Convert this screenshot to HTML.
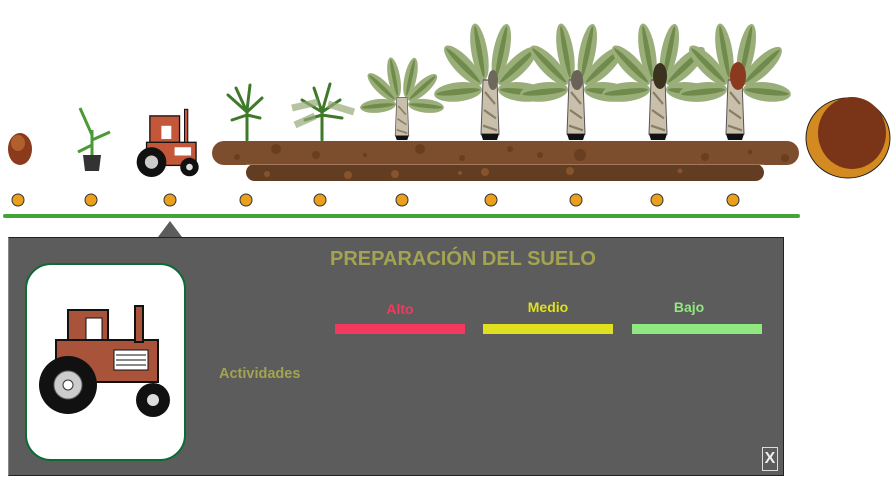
<!DOCTYPE html>
<html><head><meta charset="utf-8"><style>
body{margin:0;width:896px;height:497px;background:#fff;overflow:hidden;position:relative;font-family:"Liberation Sans",sans-serif}
.a{position:absolute}
</style></head><body>
<svg class="a" style="left:0;top:0" width="896" height="240">
<defs>
<g id="fr">
<ellipse cx="0" cy="-22" rx="8" ry="24" fill="#9aae7a"/>
<ellipse cx="0" cy="-22" rx="2.5" ry="22" fill="#6f8a4a"/>
</g>
<g id="palm">
<use href="#fr" transform="translate(-6,-52) rotate(-12)"/>
<use href="#fr" transform="translate(6,-52) rotate(14)"/>
<use href="#fr" transform="translate(-10,-48) rotate(-50)"/>
<use href="#fr" transform="translate(10,-48) rotate(52)"/>
<use href="#fr" transform="translate(-10,-42) rotate(-95)"/>
<use href="#fr" transform="translate(10,-42) rotate(95)"/>
<path d="M-7,-50 L7,-50 L9,-5 L-9,-5 Z" fill="#c9c0ab" stroke="#555" stroke-width="1"/>
<path d="M-5,-40 L5,-30 M-6,-25 L6,-18 M-7,-12 L7,-8" stroke="#8a7d66" stroke-width="2"/>
<path d="M-9,-5 L9,-5 L7,0 L-7,0Z" fill="#111"/>
</g>
</defs>
<rect x="212" y="141" width="587" height="24" rx="12" fill="#7d4e2d"/>
<rect x="246" y="164" width="518" height="17" rx="8.5" fill="#633d22"/>
<line x1="246" y1="164.5" x2="764" y2="164.5" stroke="#a07a5a" stroke-width="1"/>
<g fill="#6a3e20"><circle cx="276" cy="149" r="5"/><circle cx="316" cy="155" r="4"/><circle cx="237" cy="157" r="3"/><circle cx="420" cy="149" r="5"/><circle cx="580" cy="155" r="6"/><circle cx="510" cy="149" r="3"/><circle cx="705" cy="157" r="4"/><circle cx="750" cy="152" r="2.5"/><circle cx="365" cy="155" r="2"/><circle cx="540" cy="155" r="3"/><circle cx="462" cy="158" r="3"/><circle cx="785" cy="158" r="4"/></g>
<g fill="#85532e"><circle cx="267" cy="174" r="3"/><circle cx="348" cy="175" r="4"/><circle cx="395" cy="174" r="4"/><circle cx="485" cy="172" r="4"/><circle cx="570" cy="171" r="4"/><circle cx="680" cy="171" r="2.5"/><circle cx="460" cy="173" r="2"/></g>
<use href="#palm" transform="translate(490,140) scale(1.0,1.2)"/>
<use href="#palm" transform="translate(576,140) scale(1.0,1.2)"/>
<use href="#palm" transform="translate(658,140) scale(1.0,1.2)"/>
<use href="#palm" transform="translate(735,140) scale(1.0,1.2)"/>
<ellipse cx="493" cy="80" rx="5" ry="10" fill="#6e675c"/>
<ellipse cx="577" cy="80" rx="6" ry="10" fill="#6a6258"/>
<ellipse cx="660" cy="76" rx="7" ry="13" fill="#3b3320"/>
<ellipse cx="738" cy="76" rx="8" ry="14" fill="#8a3a1e"/>
<use href="#palm" transform="translate(402,140) scale(0.75,0.85)"/>
<g stroke="#3e7a2a" stroke-width="3" fill="none" stroke-linecap="round">
<path d="M247,140 L247,110 M247,112 L228,95 M247,112 L262,98 M247,112 L236,88 M247,115 L260,118 M247,115 L232,120 M247,110 L250,85"/>
<path d="M322,140 L322,108 M322,112 L302,100 M322,112 L340,100 M322,112 L314,88 M322,112 L330,84 M322,115 L342,118 M322,115 L305,120"/>
</g>
<path d="M292,108 L318,102 M328,104 L354,112 M295,125 L315,116" stroke="#98aa78" stroke-width="7" opacity=".7"/>
<ellipse cx="20" cy="149" rx="12" ry="16" fill="#8b3a1c"/>
<ellipse cx="18" cy="143" rx="7" ry="8" fill="#b0602c"/>
<path d="M83,155 L101,155 L99,171 L85,171Z" fill="#333"/>
<path d="M92,155 L92,130 M92,135 L80,108 M92,140 L110,132 M92,145 L78,152" stroke="#4a9a35" stroke-width="3" fill="none"/>
<g transform="translate(135,106) scale(0.33)">
<rect x="45" y="30" width="90" height="100" fill="#c4563a" stroke="#111" stroke-width="4"/>
<rect x="80" y="60" width="30" height="40" fill="#fff"/>
<rect x="35" y="110" width="150" height="70" fill="#c4563a" stroke="#111" stroke-width="4"/>
<rect x="120" y="125" width="50" height="25" fill="#fff"/>
<rect x="150" y="10" width="10" height="100" fill="#c4563a" stroke="#111" stroke-width="3"/>
<circle cx="50" cy="170" r="45" fill="#111"/><circle cx="50" cy="170" r="20" fill="#ccc"/>
<circle cx="165" cy="185" r="28" fill="#111"/><circle cx="165" cy="185" r="10" fill="#ddd"/>
</g>
<ellipse cx="848" cy="138" rx="42" ry="40" fill="#d38a20" stroke="#222"/>
<ellipse cx="852" cy="133" rx="34" ry="36" fill="#7a3418"/>
<g fill="#eaa01c" stroke="#333" stroke-width="1">
<circle cx="18" cy="200" r="6"/><circle cx="91" cy="200" r="6"/><circle cx="170" cy="200" r="6"/><circle cx="246" cy="200" r="6"/><circle cx="320" cy="200" r="6"/><circle cx="402" cy="200" r="6"/><circle cx="491" cy="200" r="6"/><circle cx="576" cy="200" r="6"/><circle cx="657" cy="200" r="6"/><circle cx="733" cy="200" r="6"/>
</g>
<rect x="3" y="214" width="797" height="4" rx="2" fill="#42a535"/>
<polygon points="158,237 170,221 182,237" fill="#5c5c5c"/>
</svg>
<div class="a" style="left:8px;top:237px;width:774px;height:237px;background:#5c5c5c;border:1px solid #222;border-left-color:#888"></div>
<div class="a" style="left:25px;top:263px;width:157px;height:194px;background:#fff;border:2px solid #0b6b35;border-radius:26px"></div>
<svg class="a" style="left:38px;top:300px" width="135" height="122" viewBox="0 0 135 122">
<rect x="30" y="10" width="40" height="40" fill="#a8533a" stroke="#111" stroke-width="2"/>
<rect x="48" y="18" width="16" height="30" fill="#fff" stroke="#111"/>
<rect x="18" y="40" width="102" height="42" fill="#a8533a" stroke="#111" stroke-width="2"/>
<rect x="76" y="50" width="34" height="20" fill="#fff" stroke="#111"/>
<path d="M78,55 H108 M78,60 H108 M78,65 H108" stroke="#111"/>
<rect x="97" y="6" width="8" height="36" fill="#a8533a" stroke="#111" stroke-width="2"/>
<circle cx="30" cy="85" r="29" fill="#111"/><circle cx="30" cy="85" r="14" fill="#ccc" stroke="#666"/><circle cx="30" cy="85" r="5" fill="#fff" stroke="#333"/>
<circle cx="115" cy="100" r="17" fill="#111"/><circle cx="115" cy="100" r="6" fill="#ddd"/>
</svg>
<div class="a" style="left:263px;top:248px;width:400px;text-align:center;color:#a3a351;font-weight:bold;font-size:20px">PREPARACIÓN DEL SUELO</div>
<div class="a" style="left:335px;top:301px;width:130px;text-align:center;color:#f23a5f;font-weight:bold;font-size:14px">Alto</div>
<div class="a" style="left:483px;top:299px;width:130px;text-align:center;color:#e0e020;font-weight:bold;font-size:14px">Medio</div>
<div class="a" style="left:624px;top:299px;width:130px;text-align:center;color:#90e880;font-weight:bold;font-size:14px">Bajo</div>
<div class="a" style="left:335px;top:324px;width:130px;height:10px;background:#f23a5f"></div>
<div class="a" style="left:483px;top:324px;width:130px;height:10px;background:#e0e020"></div>
<div class="a" style="left:632px;top:324px;width:130px;height:10px;background:#90e880"></div>
<div class="a" style="left:219px;top:366px;color:#a3a351;font-weight:bold;font-size:14.5px">Actividades</div>
<div class="a" style="left:762px;top:447px;width:14px;height:22px;border:1px solid #ddd;color:#eee;font-weight:bold;font-size:16px;text-align:center;line-height:22px">X</div>
</body></html>
